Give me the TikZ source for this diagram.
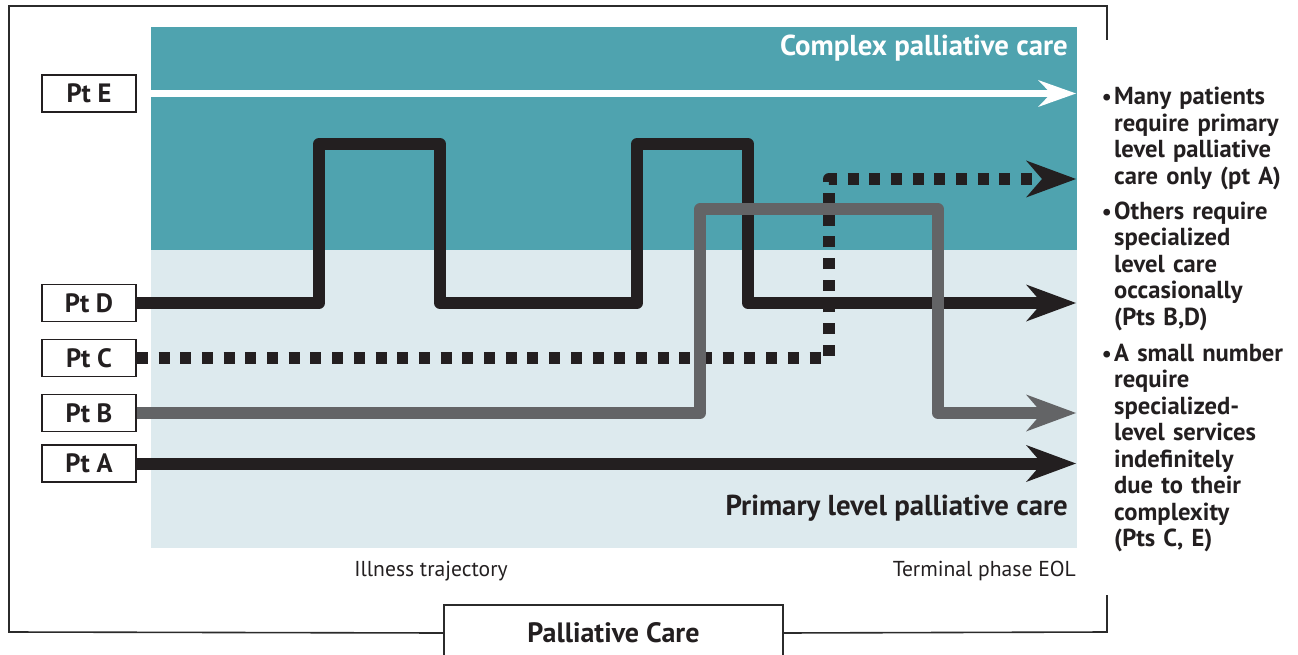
\documentclass[tikz,border=0pt]{standalone}
\usepackage{fontspec}
\setmainfont{PT Sans}
\usetikzlibrary{arrows.meta}
\definecolor{bandteal}{HTML}{4FA3AF}
\definecolor{pale}{HTML}{DDEAEE}
\definecolor{ink}{HTML}{231F20}
\definecolor{slate}{HTML}{636466}
\definecolor{framecol}{HTML}{2B2B2B}
\tikzset{
  ptbox/.style={draw=ink, line width=1.6pt, fill=white, minimum width=94pt, minimum height=37pt, inner sep=0pt, font=\fontsize{26.5}{28}\selectfont\bfseries, text=ink},
  traj/.style={line width=12pt, line join=round, line cap=butt},
  bigtip/.style={-{Stealth[length=50pt, width=37pt, inset=16pt, line width=0pt]}},
  smalltip/.style={-{Stealth[length=38pt, width=27pt, inset=13pt, line width=0pt]}},
  bullettext/.style={anchor=base west, inner sep=0pt, align=left, text width=200pt, font=\fontsize{24.6}{26.5}\selectfont\bfseries, text=ink},
  bulletdot/.style={anchor=base east, inner sep=0pt, font=\fontsize{22}{26.5}\selectfont\bfseries, text=ink},
  axislabel/.style={inner sep=0pt, font=\fontsize{21.6}{24}\selectfont, text=ink},
}
\begin{document}
\begin{tikzpicture}[x=1pt, y=-1pt]
\useasboundingbox (0,0) rectangle (1298,655);
% bands
\fill[bandteal] (151,27) rectangle (1077,250);
\fill[pale] (151,250) rectangle (1077,548);
% frame and title box
\node[draw=framecol, line width=1.6pt, minimum width=339pt, minimum height=56pt, inner sep=0pt, font=\fontsize{28}{30}\selectfont\bfseries, text=ink] (pc) at (613.5,633) {Palliative Care};
\coordinate (fr1) at (1107,40);
\coordinate (fr2) at (1107,595);
\draw[framecol, line width=1.6pt] (fr1) -- (1107,6) -- (9,6) -- (9,632) -- (pc.west);
\draw[framecol, line width=1.6pt] (pc.east) -- (1107,632) -- (fr2);
% band labels
\node[anchor=base east, inner sep=0pt, font=\fontsize{28.8}{30}\selectfont\bfseries, text=white] (cx) at (1068,56) {Complex palliative care};
\node[anchor=base east, inner sep=0pt, font=\fontsize{28.8}{30}\selectfont\bfseries, text=ink] (pr) at (1068,515) {Primary level palliative care};
\node[axislabel, anchor=base] (il) at (431,576) {Illness trajectory};
\node[axislabel, anchor=base east] (tp) at (1076,576) {Terminal phase EOL};
% patient boxes
\node[ptbox] (E) at (89,93.5) {Pt E};
\node[ptbox] (D) at (89,303) {Pt D};
\node[ptbox] (C) at (89,358) {Pt C};
\node[ptbox] (B) at (89,413) {Pt B};
\node[ptbox] (A) at (89,463.5) {Pt A};
% arrow ends
\coordinate (eE) at (1076,93.5);
\coordinate (eC) at (1076,179);
\coordinate (eD) at (1076,303);
\coordinate (eB) at (1076,413);
\coordinate (eA) at (1076,463.5);
% trajectories
\draw[traj, ink, bigtip] (D.east) -- (319,303) -- (319,144) -- (440,144) -- (440,303) -- (637,303) -- (637,144) -- (748,144) -- (748,303) -- (eD);
\draw[traj, ink, bigtip, dash pattern=on 11pt off 10.7pt] (C.east) -- (829,358) -- (829,179) -- (eC);
\draw[traj, slate, bigtip] (B.east) -- (700,413) -- (700,209.5) -- (938,209.5) -- (938,413) -- (eB);
\draw[traj, ink, bigtip] (A.east) -- (eA);
\draw[line width=7pt, white, smalltip] (E.east) -- (eE);
% right notes
\node[bulletdot] (b1) at (1112,105) {\textbullet};
\node[bullettext] (t1) at (1114,105) {Many patients\\require primary\\level palliative\\care only (pt A)};
\node[bulletdot] (b2) at (1112,219) {\textbullet};
\node[bullettext] (t2) at (1114,219) {Others require\\specialized\\level care\\occasionally\\(Pts B,D)};
\node[bulletdot] (b3) at (1112,361) {\textbullet};
\node[bullettext] (t3) at (1114,361) {A small number\\require\\specialized-\\level services\\indefinitely\\due to their\\complexity\\(Pts C, E)};
\end{tikzpicture}
\end{document}
